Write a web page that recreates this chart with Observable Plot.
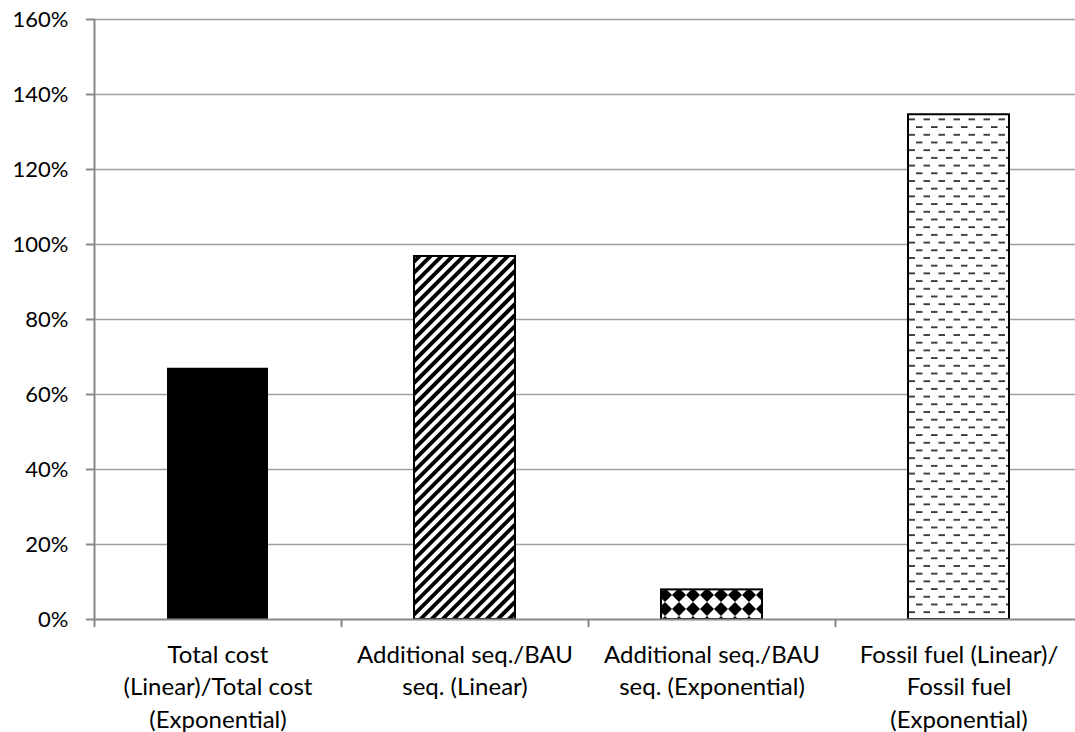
<!DOCTYPE html>
<html><head><meta charset="utf-8">
<script src="https://cdn.jsdelivr.net/npm/d3@7"></script>
<script src="https://cdn.jsdelivr.net/npm/@observablehq/plot@0.6"></script>
<style>html,body{margin:0;padding:0;background:#fff;overflow:hidden}svg{overflow:hidden}</style>
</head><body><div id="chart"></div>
<script>
// ---- data ----
const categories = [
  "Total cost (Linear)/Total cost (Exponential)",
  "Additional seq./BAU seq. (Linear)",
  "Additional seq./BAU seq. (Exponential)",
  "Fossil fuel (Linear)/Fossil fuel (Exponential)"
];
const tickLabels = [
  "Total cost\n(Linear)/Total cost\n(Exponential)",
  "Additional seq./BAU\nseq. (Linear)",
  "Additional seq./BAU\nseq. (Exponential)",
  "Fossil fuel (Linear)/\nFossil fuel\n(Exponential)"
];
const values = [67.0, 96.8, 7.9, 134.6];
const yTicks = [0, 20, 40, 60, 80, 100, 120, 140, 160];

// ---- layout / style ----
const W = 1075, H = 732, ML = 94, MR = -7, MT = 19, MB = 113;
const step = (W - ML - MR) / categories.length;
const fills = ["#000", "url(#pat-diag)", "url(#pat-diamond)", "url(#pat-dash)"];
const strokes = ["none", "#000", "#000", "#000"];
const data = categories.map((c, i) => ({category: c, value: values[i]}));

const chart = Plot.plot({
  width: W, height: H,
  marginLeft: ML, marginRight: MR, marginTop: MT, marginBottom: MB,
  style: {fontFamily: "Lato, 'Open Sans', sans-serif", fontSize: "22px", color: "#000", background: "#fff"},
  x: {type: "band", domain: categories, paddingInner: 0.59, paddingOuter: 0.295},
  y: {domain: [0, 160]},
  marks: [
    Plot.ruleY(yTicks.filter(t => t > 0), {stroke: "#a0a0a0", strokeWidth: 1.3}),
    ...data.map((d, i) => Plot.barY([d], {x: "category", y: "value", fill: fills[i], stroke: strokes[i], strokeWidth: 2})),
    Plot.ruleY([0], {stroke: "#888", strokeWidth: 2}),
    Plot.ruleX([categories[0]], {x: d => d, y1: 0, y2: 160, dx: -step / 2, stroke: "#888", strokeWidth: 2}),
    Plot.ruleX(categories, {x: d => d, y1: 0, y2: 0, insetBottom: -8, dx: -step / 2, stroke: "#888", strokeWidth: 2}),
    Plot.axisY({ticks: yTicks, tickSize: 8, tickPadding: 18, tickFormat: d => d + "%", stroke: "#888", strokeWidth: 2, fontSize: 22, label: null}),
    Plot.axisX({tickSize: 0, tickPadding: 20, tickFormat: d => tickLabels[categories.indexOf(d)], lineHeight: 1.36, fontSize: 24, label: null})
  ]
});

const svg = d3.select(chart);
const defs = svg.insert("defs", ":first-child");
const pd = defs.append("pattern").attr("id", "pat-diag").attr("patternUnits", "userSpaceOnUse")
  .attr("width", 7.8).attr("height", 7.8).attr("patternTransform", "rotate(45)");
pd.append("rect").attr("width", 7.8).attr("height", 7.8).attr("fill", "#fff");
pd.append("rect").attr("width", 3.9).attr("height", 7.8).attr("fill", "#000");

const pm = defs.append("pattern").attr("id", "pat-diamond").attr("patternUnits", "userSpaceOnUse")
  .attr("width", 14).attr("height", 14);
pm.append("rect").attr("width", 14).attr("height", 14).attr("fill", "#fff");
pm.append("path").attr("d", "M7,0L14,7L7,14L0,7Z").attr("fill", "#000");

const ph = defs.append("pattern").attr("id", "pat-dash").attr("patternUnits", "userSpaceOnUse")
  .attr("width", 15).attr("height", 15.4);
ph.append("rect").attr("width", 15).attr("height", 15.4).attr("fill", "#fff");
ph.append("rect").attr("x", 1).attr("y", 3).attr("width", 6.5).attr("height", 1.8).attr("fill", "#333");
ph.append("rect").attr("x", 8.5).attr("y", 10.7).attr("width", 6.5).attr("height", 1.8).attr("fill", "#333");

document.getElementById("chart").appendChild(chart);
</script>
</body></html>
